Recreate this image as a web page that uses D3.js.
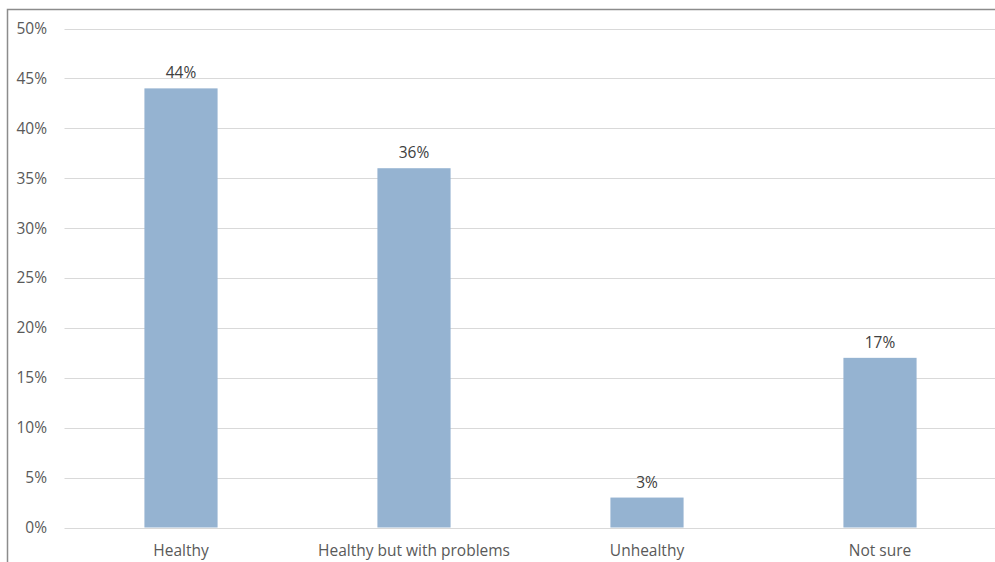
<!DOCTYPE html>
<html>
<head>
<meta charset="utf-8">
<script src="https://cdn.jsdelivr.net/npm/d3@7"></script>
<style>
  html, body { margin: 0; padding: 0; background: #fff; }
  svg { display: block; }
  text { font-family: "Open Sans", "Liberation Sans", sans-serif; fill: #595959; }
</style>
</head>
<body>
<svg id="chart" width="995" height="562"></svg>
<script>
// Survey responses: share of answers per category
const categories = ["Healthy", "Healthy but with problems", "Unhealthy", "Not sure"];
const values = [44, 36, 3, 17];
const yTicks = [0, 5, 10, 15, 20, 25, 30, 35, 40, 45, 50];

const svg = d3.select("#chart");
const plot = { left: 64.5, right: 996.5, top: 28.5, bottom: 527.5 };
const fontSize = 15.5;

// outer frame of the chart area
svg.append("rect")
  .attr("x", 7.5).attr("y", 9.5)
  .attr("width", 1000).attr("height", 600)
  .attr("fill", "none")
  .attr("stroke", "#8c8c8c")
  .attr("stroke-width", 1.5);

const x = d3.scaleBand()
  .domain(categories)
  .range([plot.left, plot.right])
  .paddingInner(0.686)
  .paddingOuter(0.343);

const y = d3.scaleLinear()
  .domain([0, 50])
  .range([plot.bottom, plot.top]);

// horizontal gridlines
svg.append("g")
  .selectAll("line")
  .data(yTicks)
  .join("line")
  .attr("x1", plot.left).attr("x2", plot.right)
  .attr("y1", d => Math.round(y(d)) + 0.5)
  .attr("y2", d => Math.round(y(d)) + 0.5)
  .attr("stroke", "#d9d9d9")
  .attr("stroke-width", 1.2);

// y-axis tick labels
const yAxis = d3.axisLeft(y)
  .tickValues(yTicks)
  .tickFormat(d => d + "%")
  .tickSize(0)
  .tickPadding(0);

const gy = svg.append("g")
  .attr("transform", `translate(47,0)`)
  .call(yAxis);
gy.select(".domain").remove();
gy.selectAll("text")
  .attr("font-size", fontSize)
  .attr("font-family", "'Open Sans', sans-serif")
  .attr("fill", "#595959");

// bars
svg.append("g")
  .selectAll("rect")
  .data(values)
  .join("rect")
  .attr("x", (d, i) => x(categories[i]))
  .attr("width", x.bandwidth())
  .attr("y", d => y(d))
  .attr("height", d => y(0) - y(d))
  .attr("fill", "#95b3d1");

// value labels
svg.append("g")
  .selectAll("text")
  .data(values)
  .join("text")
  .attr("x", (d, i) => x(categories[i]) + x.bandwidth() / 2)
  .attr("y", d => y(d) - 10)
  .attr("text-anchor", "middle")
  .attr("font-size", fontSize)
  .style("fill", "#404040")
  .text(d => d + "%");

// category axis labels
const xAxis = d3.axisBottom(x).tickSize(0).tickPadding(0);
const gx = svg.append("g")
  .attr("transform", `translate(0,${plot.bottom + 17})`)
  .call(xAxis);
gx.select(".domain").remove();
gx.selectAll("text")
  .attr("font-size", fontSize)
  .attr("font-family", "'Open Sans', sans-serif")
  .attr("fill", "#595959");
</script>
</body>
</html>
